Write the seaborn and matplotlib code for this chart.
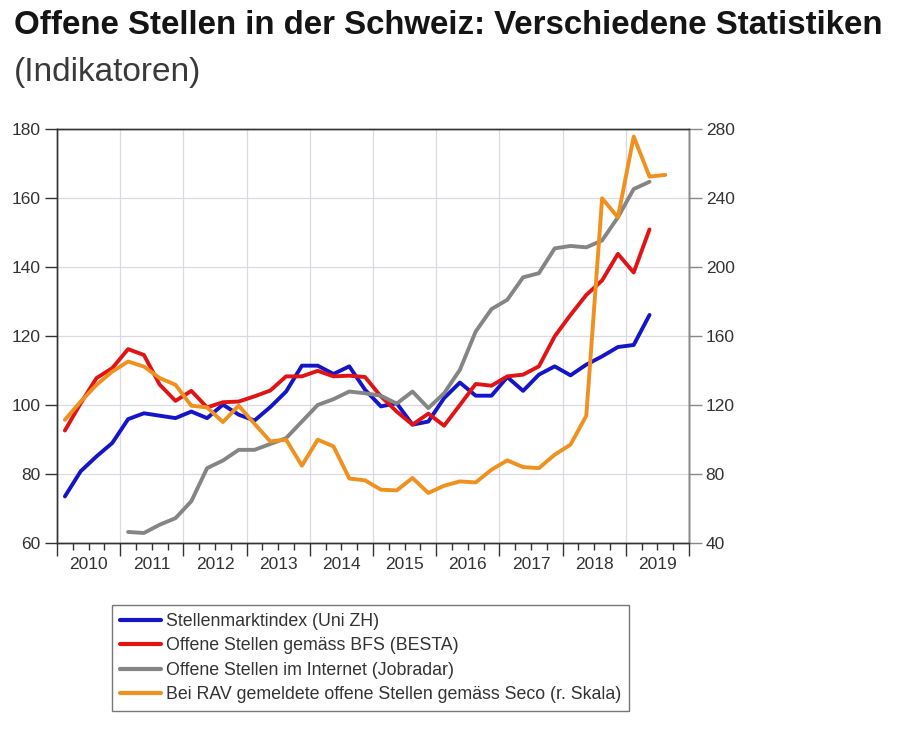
import numpy as np
import pandas as pd
import seaborn as sns
import matplotlib.pyplot as plt
from matplotlib.lines import Line2D

# Quartalswerte, Index linke Skala
jahre = list(range(2010, 2020))
blau_uni_zh = [73.5, 80.8, 85.1, 89.0, 95.9, 97.6, 96.9, 96.2, 98.1, 96.2, 100.1, 97.2,
               95.5, 99.4, 103.9, 111.4, 111.4, 109.0, 111.2, 104.4, 99.6, 100.5, 94.3, 95.2,
               102.0, 106.5, 102.7, 102.7, 108.1, 104.1, 108.8, 111.2, 108.6, 111.7, 114.1, 116.8,
               117.4, 126.1]
rot_besta = [92.6, 100.5, 107.8, 110.7, 116.2, 114.5, 105.9, 101.2, 104.1, 99.3, 100.8, 101.0,
             102.5, 104.2, 108.3, 108.3, 109.9, 108.3, 108.5, 108.1, 102.5, 98.1, 94.3, 97.5,
             94.0, 100.0, 106.1, 105.6, 108.3, 108.8, 111.2, 119.9, 126.1, 131.9, 136.1, 143.8,
             138.4, 150.9]
# Jobradar beginnt 2011Q1
grau_jobradar = [63.2, 62.9, 65.3, 67.2, 72.1, 81.7, 83.9, 87.0, 87.0, 88.7, 90.4, 95.2,
                 100.0, 101.7, 103.9, 103.4, 102.7, 100.4, 103.9, 99.1, 103.4, 110.2, 121.3, 127.8,
                 130.5, 137.0, 138.2, 145.4, 146.1, 145.7, 147.7, 154.4, 162.6, 164.7]
# RAV / Seco, rechte Skala, bis 2019Q3
orange_seco = [111.4, 122.0, 131.7, 139.4, 145.2, 142.3, 135.6, 131.7, 119.6, 118.6, 110.1, 119.6,
               109.1, 98.9, 99.9, 84.8, 99.9, 96.0, 77.4, 76.3, 70.9, 70.5, 77.7, 69.0,
               73.2, 75.7, 75.1, 82.5, 87.9, 84.0, 83.4, 91.2, 97.0, 113.8, 239.8, 228.8,
               275.6, 252.4, 253.4]

labels = ["Stellenmarktindex (Uni ZH)",
          "Offene Stellen gemäss BFS (BESTA)",
          "Offene Stellen im Internet (Jobradar)",
          "Bei RAV gemeldete offene Stellen gemäss Seco (r. Skala)"]
farben = ["#1414c8", "#e01414", "#858585", "#f0901e"]


def quartale(start_jahr, n):
    # Quartalsmitte als Dezimaljahr
    return [start_jahr + (i + 0.5) / 4 for i in range(n)]


df_links = pd.concat([
    pd.DataFrame({"x": quartale(2010, len(blau_uni_zh)), "wert": blau_uni_zh, "serie": labels[0]}),
    pd.DataFrame({"x": quartale(2010, len(rot_besta)), "wert": rot_besta, "serie": labels[1]}),
    pd.DataFrame({"x": quartale(2011, len(grau_jobradar)), "wert": grau_jobradar, "serie": labels[2]}),
])
df_rechts = pd.DataFrame({"x": quartale(2010, len(orange_seco)), "wert": orange_seco})

sns.set_style("white")
plt.rcParams['font.family'] = ['Liberation Sans', 'DejaVu Sans']

fig = plt.figure(figsize=(9, 7.3), dpi=100)
ax = fig.add_axes([57 / 900, 1 - 543 / 730, (689 - 57) / 900, (543 - 129) / 730])

sns.lineplot(data=df_links, x="x", y="wert", hue="serie", palette=farben[:3],
             hue_order=labels[:3], linewidth=2.8, legend=False, ax=ax)
ax2 = ax.twinx()
sns.lineplot(data=df_rechts, x="x", y="wert", color=farben[3], linewidth=2.8, ax=ax2)

ax.set_xlim(2010, 2020)
ax.set_ylim(60, 180)
ax2.set_ylim(40, 280)
ax.set_yticks(range(60, 181, 20))
ax2.set_yticks(range(40, 281, 40))
ax.set_xlabel("")
ax.set_ylabel("")
ax2.set_ylabel("")

# Jahresgrenzen als Haupt-Ticks, Quartale als Neben-Ticks, Jahreslabel in der Mitte
ax.set_xticks(range(2010, 2021))
ax.set_xticklabels([])
quart_pos = [j + q / 4 for j in jahre for q in (1, 2, 3)]
ax.set_xticks(quart_pos, minor=True)
ax.set_xticklabels([str(int(p)) if abs(p % 1 - 0.5) < 1e-6 else "" for p in quart_pos], minor=True)

ax.grid(True, which="major", color="#dcd8e4", linewidth=0.9)
ax2.grid(False)
ax.set_axisbelow(True)

tc = "#333333"
ax.tick_params(axis="x", which="major", length=9, width=1, color=tc, direction="out", bottom=True)
ax.tick_params(axis="x", which="minor", length=5, width=1, color=tc, direction="out",
               bottom=True, labelsize=12.5, labelcolor=tc, pad=5)
ax.tick_params(axis="y", length=9, width=1, color=tc, direction="out", left=True,
               labelsize=12.5, labelcolor=tc, pad=3)
ax2.tick_params(axis="y", length=9, width=1, color="#888888", direction="out", right=True,
                labelsize=12.5, labelcolor=tc, pad=3)

for a in (ax, ax2):
    for s in a.spines.values():
        s.set_color(tc)
        s.set_linewidth(1)
ax2.spines["right"].set_color("#888888")

fig.text(14 / 900, 1 - 26 / 730, "Offene Stellen in der Schweiz: Verschiedene Statistiken",
         fontsize=23.8, fontweight="bold", color="#151515", va="center", ha="left")
fig.text(14 / 900, 1 - 72 / 730, "(Indikatoren)", fontsize=24, color="#3a3a3a",
         va="center", ha="left")

griffe = [Line2D([], [], color=c, linewidth=3) for c in farben]
leg = fig.legend(griffe, labels, loc="upper left", bbox_to_anchor=(112 / 900, 1 - 605 / 730),
                 fontsize=12.8, frameon=True, fancybox=False, handlelength=2.3,
                 handletextpad=0.3, labelspacing=0.42, borderpad=0.45, borderaxespad=0)
leg.get_frame().set_edgecolor("#555555")
leg.get_frame().set_linewidth(1)
for t in leg.get_texts():
    t.set_color(tc)

fig.savefig("out.png", dpi=100)
